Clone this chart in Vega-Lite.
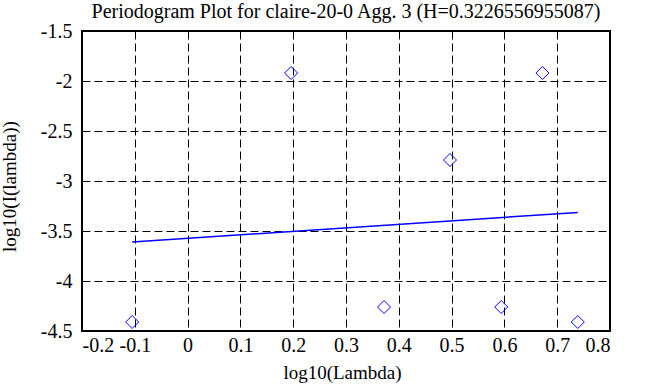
{
  "$schema": "https://vega.github.io/schema/vega-lite/v6.json",
  "width": 528,
  "height": 300,
  "autosize": "none",
  "padding": {"left": 82, "top": 31, "right": 37, "bottom": 56},
  "background": "white",
  "title": {
    "text": "Periodogram Plot for claire-20-0 Agg. 3 (H=0.3226556955087)",
    "font": "Liberation Serif",
    "fontSize": 20,
    "fontWeight": "normal",
    "color": "black",
    "anchor": "middle",
    "baseline": "alphabetic",
    "offset": 2,
    "dy": 19
  },
  "datasets": {
    "points": [
      {"logLambda": -0.105, "logI": -4.41},
      {"logLambda": 0.196, "logI": -1.92},
      {"logLambda": 0.372, "logI": -4.26},
      {"logLambda": 0.497, "logI": -2.79},
      {"logLambda": 0.594, "logI": -4.26},
      {"logLambda": 0.672, "logI": -1.92},
      {"logLambda": 0.739, "logI": -4.41}
    ],
    "fit": [
      {"logLambda": -0.105, "logI": -3.61},
      {"logLambda": 0.739, "logI": -3.315}
    ]
  },
  "layer": [
    {
      "data": {"name": "points"},
      "mark": {"type": "point", "shape": "diamond", "size": 169, "filled": false, "stroke": "#0000ff", "strokeWidth": 1, "opacity": 1},
      "encoding": {
        "x": {
          "field": "logLambda", "type": "quantitative",
          "scale": {"domain": [-0.2, 0.8], "nice": false, "zero": false},
          "axis": {
            "title": "log10(Lambda)",
            "values": [-0.2, -0.1, 0, 0.1, 0.2, 0.3, 0.4, 0.5, 0.6, 0.7, 0.8],
            "labelExpr": "'' + datum.value",
            "labelFont": "Liberation Serif",
            "labelFontSize": 20,
            "titleX": 260,
            "titleY": 47,
            "titleBaseline": "alphabetic"
          }
        },
        "y": {
          "field": "logI", "type": "quantitative",
          "scale": {"domain": [-4.5, -1.5], "nice": false, "zero": false},
          "axis": {
            "title": "log10(I(lambda))",
            "values": [-4.5, -4, -3.5, -3, -2.5, -2, -1.5],
            "labelExpr": "'' + datum.value",
            "labelFont": "Liberation Serif",
            "labelFontSize": 20,
            "titleX": -67,
            "titleY": 155,
            "titleAngle": -90,
            "titleBaseline": "alphabetic",
            "labelPadding": 10
          }
        }
      }
    },
    {
      "data": {"name": "fit"},
      "mark": {"type": "line", "color": "#0000ff", "strokeWidth": 1.5},
      "encoding": {
        "x": {"field": "logLambda", "type": "quantitative"},
        "y": {"field": "logI", "type": "quantitative"}
      }
    }
  ],
  "config": {
    "view": {"stroke": "black", "strokeWidth": 2},
    "axis": {
      "domain": false,
      "ticks": false,
      "grid": true,
      "gridColor": "black",
      "gridOpacity": 1,
      "gridWidth": 1,
      "gridDash": [8, 4],
      "labelFont": "Liberation Serif",
      "labelFontSize": 20,
      "labelColor": "black",
      "titleFont": "Liberation Serif",
      "titleFontSize": 19,
      "titleFontWeight": "normal",
      "titleColor": "black",
      "labelPadding": 4
    }
  }
}
